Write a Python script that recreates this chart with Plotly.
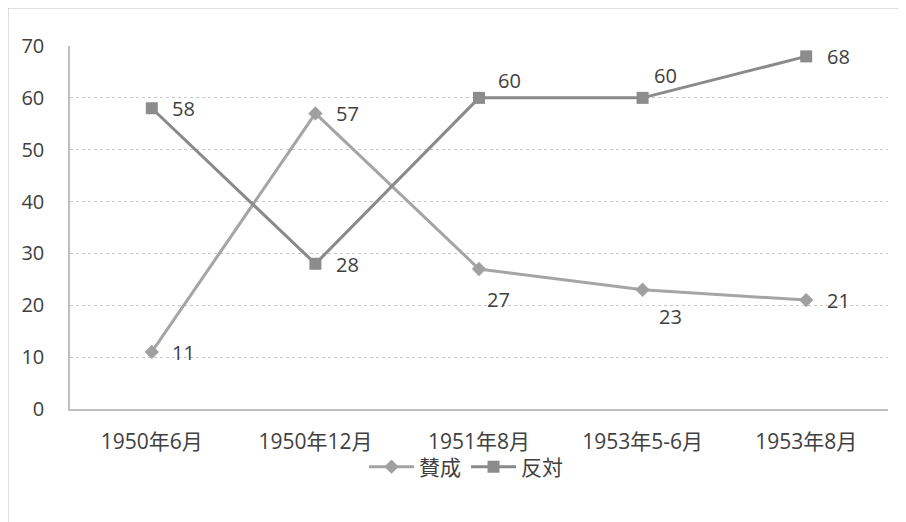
import plotly.graph_objects as go

categories = ["1950年6月", "1950年12月", "1951年8月", "1953年5-6月", "1953年8月"]
favor = [11, 57, 27, 23, 21]
oppose = [58, 28, 60, 60, 68]
y_ticks = [0, 10, 20, 30, 40, 50, 60, 70]

# label pixel offsets (style only)
favor_off = [(32, -1), (32, 0), (19, -31), (28, -27), (32, 0)]
oppose_off = [(32, 0), (32, -1), (30, 17), (23, 22), (32, 0)]

FONT = "Open Sans, Noto Sans CJK JP"
TXT = "#404040"

fig = go.Figure()
fig.add_trace(go.Scatter(
    x=categories, y=favor, name="賛成", mode="lines+markers",
    line=dict(color="#a5a5a5", width=3),
    marker=dict(symbol="diamond", size=11, color="#a0a0a0"),
    hoverinfo="skip",
))
fig.add_trace(go.Scatter(
    x=categories, y=oppose, name="反対", mode="lines+markers",
    line=dict(color="#8a8a8a", width=3),
    marker=dict(symbol="square", size=12, color="#8c8c8c"),
    hoverinfo="skip",
))

for vals, offs in ((favor, favor_off), (oppose, oppose_off)):
    for c, v, (dx, dy) in zip(categories, vals, offs):
        fig.add_annotation(x=c, y=v, text=str(v), showarrow=False,
                           xanchor="center", yanchor="middle",
                           xshift=dx, yshift=dy,
                           font=dict(family=FONT, size=20, color=TXT))

# page body has an 8px margin; figure is sized/offset to compensate
fig.add_shape(type="rect", xref="paper", yref="paper",
              x0=-62/818, x1=1.2, y0=-0.5, y1=(409-8)/363,
              line=dict(color="#bfbfbf", width=1), layer="below")

fig.update_layout(
    width=898, height=514,
    margin=dict(l=62, r=18, t=38, b=113),
    paper_bgcolor="white", plot_bgcolor="white",
    font=dict(family=FONT, size=20, color=TXT),
    showlegend=True,
    legend=dict(orientation="h", x=(466-70)/818, xanchor="center",
                y=(409-467)/363, yanchor="middle",
                bgcolor="rgba(0,0,0,0)", itemwidth=45,
                font=dict(family=FONT, size=21, color=TXT)),
    xaxis=dict(type="category", range=[-0.5, 4.5], showgrid=False,
               showline=True, linecolor="#bfbfbf", linewidth=1.5,
               ticks="", ticklabelstandoff=13,
               tickfont=dict(family=FONT, size=21, color=TXT)),
    yaxis=dict(range=[0, 70], tickvals=y_ticks, showgrid=True,
               gridcolor="#c8c8c8", griddash="dot", gridwidth=1,
               showline=True, linecolor="#bfbfbf", linewidth=1.5,
               zeroline=False, ticks="", ticklabelstandoff=20,
               tickfont=dict(family=FONT, size=20, color=TXT)),
)

fig.write_html("out.html")
